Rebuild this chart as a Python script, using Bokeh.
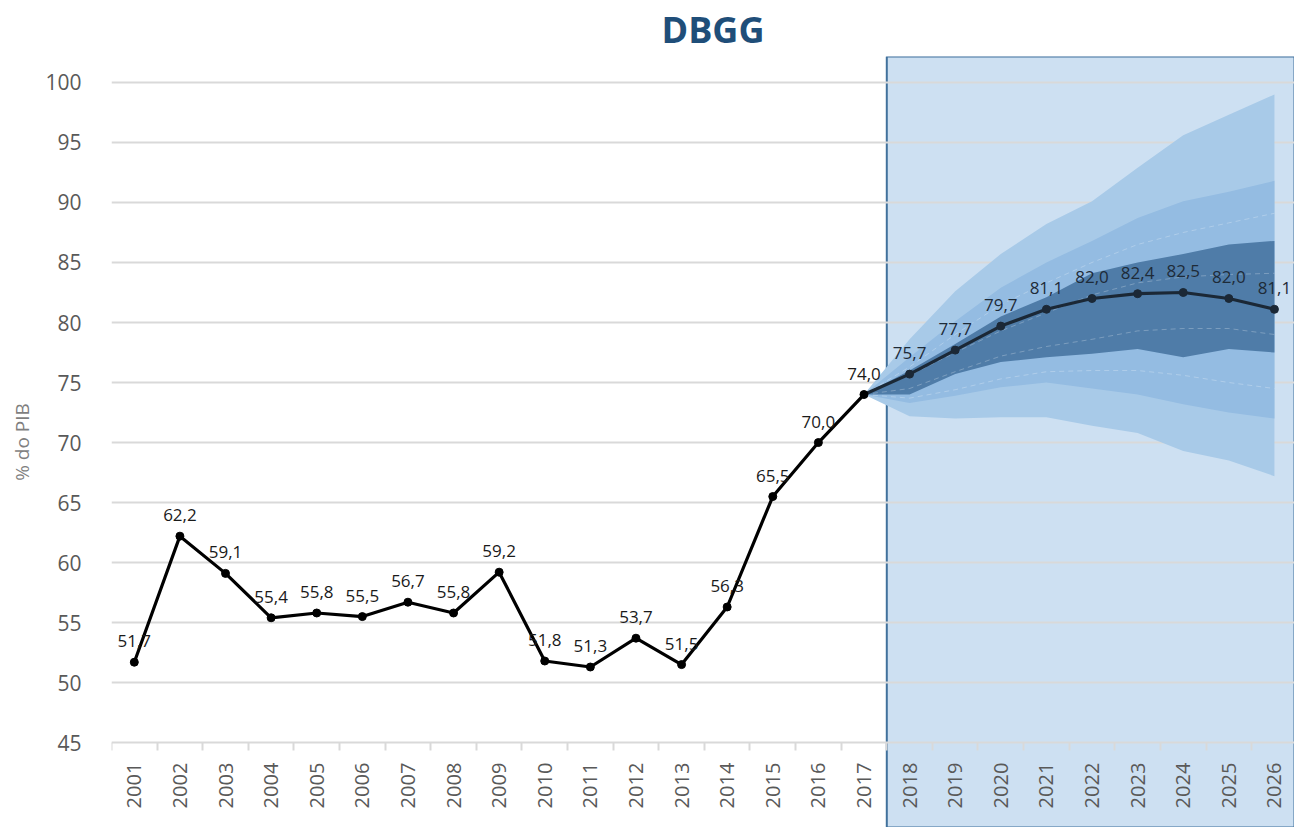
import numpy as np
from bokeh.plotting import figure
from bokeh.models import (ColumnDataSource, BoxAnnotation, FixedTicker, Range1d,
                          CustomJSTickFormatter)
from bokeh.core.properties import value
from bokeh.embed import file_html
from bokeh.resources import INLINE

# ---------------- data ----------------
hist_years = [2001, 2002, 2003, 2004, 2005, 2006, 2007, 2008, 2009, 2010, 2011,
              2012, 2013, 2014, 2015, 2016, 2017]
hist_vals = [51.7, 62.2, 59.1, 55.4, 55.8, 55.5, 56.7, 55.8, 59.2, 51.8, 51.3,
             53.7, 51.5, 56.3, 65.5, 70.0, 74.0]

fc_years = [2017, 2018, 2019, 2020, 2021, 2022, 2023, 2024, 2025, 2026]
fc_vals = [74.0, 75.7, 77.7, 79.7, 81.1, 82.0, 82.4, 82.5, 82.0, 81.1]

outer_hi = [74.0, 78.6, 82.6, 85.7, 88.2, 90.1, 92.9, 95.6, 97.3, 99.0]
outer_lo = [74.0, 72.2, 72.0, 72.1, 72.1, 71.4, 70.8, 69.3, 68.5, 67.2]
mid_hi = [74.0, 77.1, 80.1, 82.9, 85.0, 86.8, 88.7, 90.1, 90.9, 91.8]
mid_lo = [74.0, 73.3, 73.9, 74.6, 75.0, 74.5, 74.0, 73.2, 72.5, 72.0]
dark_hi = [74.0, 76.0, 78.2, 80.5, 82.1, 84.1, 85.0, 85.7, 86.5, 86.8]
dark_lo = [74.0, 74.0, 75.7, 76.7, 77.1, 77.4, 77.8, 77.1, 77.8, 77.5]

dash_a = [74.0, 76.3, 79.0, 81.5, 83.3, 85.0, 86.5, 87.5, 88.3, 89.1]
dash_b = [74.0, 75.6, 77.5, 79.3, 80.8, 82.3, 83.3, 83.8, 84.0, 84.1]
dash_c = [74.0, 74.5, 75.9, 77.2, 78.0, 78.6, 79.3, 79.5, 79.5, 79.0]
dash_d = [74.0, 73.7, 74.4, 75.3, 75.9, 76.0, 76.0, 75.6, 75.0, 74.5]

all_years = list(range(2001, 2027))
y_ticks = [45, 50, 55, 60, 65, 70, 75, 80, 85, 90, 95, 100]

FONT = "Open Sans"

def fmt(v):
    return ("%.1f" % v).replace(".", ",")

# ---------------- figure ----------------
p = figure(width=1294, height=827, output_backend="svg", toolbar_location=None,
           x_range=Range1d(2000.5, 2026.44), y_range=Range1d(37.93, 102.16),
           min_border_left=111, min_border_right=0, min_border_top=55,
           min_border_bottom=0, outline_line_color=None,
           background_fill_color="white", border_fill_color="white")

p.title.text = "DBGG"
p.title.align = "left"
p.title.offset = 550
p.title.standoff = 5
p.title.text_font = FONT
p.title.text_font_size = "36px"
p.title.text_font_style = "bold"
p.title.text_color = "#1F4E79"

# forecast shaded box
box = BoxAnnotation(left=2017.5, fill_color="#CDE0F2", fill_alpha=1.0,
                    line_color="#41719C", line_alpha=1.0, line_width=2,
                    level="image")
p.add_layout(box)

# fan bands
fan = ColumnDataSource(dict(x=fc_years, ohi=outer_hi, olo=outer_lo,
                            mhi=mid_hi, mlo=mid_lo, dhi=dark_hi, dlo=dark_lo,
                            da=dash_a, db=dash_b, dc=dash_c, dd=dash_d))
p.varea(x="x", y1="olo", y2="ohi", source=fan, fill_color="#A8CAE8")
p.varea(x="x", y1="mlo", y2="mhi", source=fan, fill_color="#94BCE2")
p.varea(x="x", y1="dlo", y2="dhi", source=fan, fill_color="#4F7CA8")
for col in ["da", "db", "dc", "dd"]:
    p.line(x="x", y=col, source=fan, line_color="white", line_alpha=0.25,
           line_width=1, line_dash="5 4")

# lines
hist = ColumnDataSource(dict(x=hist_years, y=hist_vals,
                             lab=[fmt(v) for v in hist_vals]))
fc = ColumnDataSource(dict(x=fc_years[1:], y=fc_vals[1:],
                           lab=[fmt(v) for v in fc_vals[1:]]))
p.line(x=fc_years, y=fc_vals, line_color="#1B2836", line_width=3.2)
p.line(x="x", y="y", source=hist, line_color="black", line_width=3.2)
p.scatter(x="x", y="y", source=hist, size=8, color="black")
p.scatter(x="x", y="y", source=fc, size=8, color="#1B2836")

p.text(x="x", y="y", text="lab", source=hist, text_font=value(FONT),
       text_font_size="17px", text_color="#1a1a1a", text_align="center",
       text_baseline="bottom", y_offset=-15)
p.text(x="x", y="y", text="lab", source=fc, text_font=value(FONT),
       text_font_size="17px", text_color="#1E2B38", text_align="center",
       text_baseline="bottom", y_offset=-15)

# axes
p.xgrid.grid_line_color = None
p.ygrid.ticker = FixedTicker(ticks=y_ticks[1:])
p.ygrid.grid_line_color = "#D9D9D9"
p.ygrid.grid_line_width = 2

p.yaxis.ticker = FixedTicker(ticks=y_ticks)
p.yaxis.axis_line_color = None
p.yaxis.major_tick_line_color = None
p.yaxis.minor_tick_line_color = None
p.yaxis.major_label_text_font = FONT
p.yaxis.major_label_text_font_size = "21px"
p.yaxis.major_label_text_color = "#595959"
p.yaxis.major_label_standoff = 24
p.yaxis.axis_label = "% do PIB"
p.yaxis.axis_label_text_font = FONT
p.yaxis.axis_label_text_font_size = "19px"
p.yaxis.axis_label_text_font_style = "normal"
p.yaxis.axis_label_text_color = "#7F7F7F"
p.yaxis.axis_label_standoff = 7

p.xaxis.fixed_location = 45
p.xaxis.ticker = FixedTicker(ticks=all_years,
                             minor_ticks=[y + 0.5 for y in range(2000, 2027)])
p.xaxis.axis_line_color = "#D9D9D9"
p.xaxis.axis_line_width = 2
p.xaxis.major_tick_line_color = None
p.xaxis.major_tick_out = 0
p.xaxis.major_tick_in = 0
p.xaxis.minor_tick_line_color = "#D9D9D9"
p.xaxis.minor_tick_line_width = 2
p.xaxis.minor_tick_out = 8
p.xaxis.minor_tick_in = 0
p.xaxis.major_label_orientation = np.pi / 2
p.xaxis.major_label_text_font = FONT
p.xaxis.major_label_text_font_size = "20px"
p.xaxis.major_label_text_color = "#595959"
p.xaxis.major_label_standoff = 12
p.xaxis.formatter = CustomJSTickFormatter(code="return tick.toFixed(0);")

open("out.html", "w").write(file_html(p, INLINE))
